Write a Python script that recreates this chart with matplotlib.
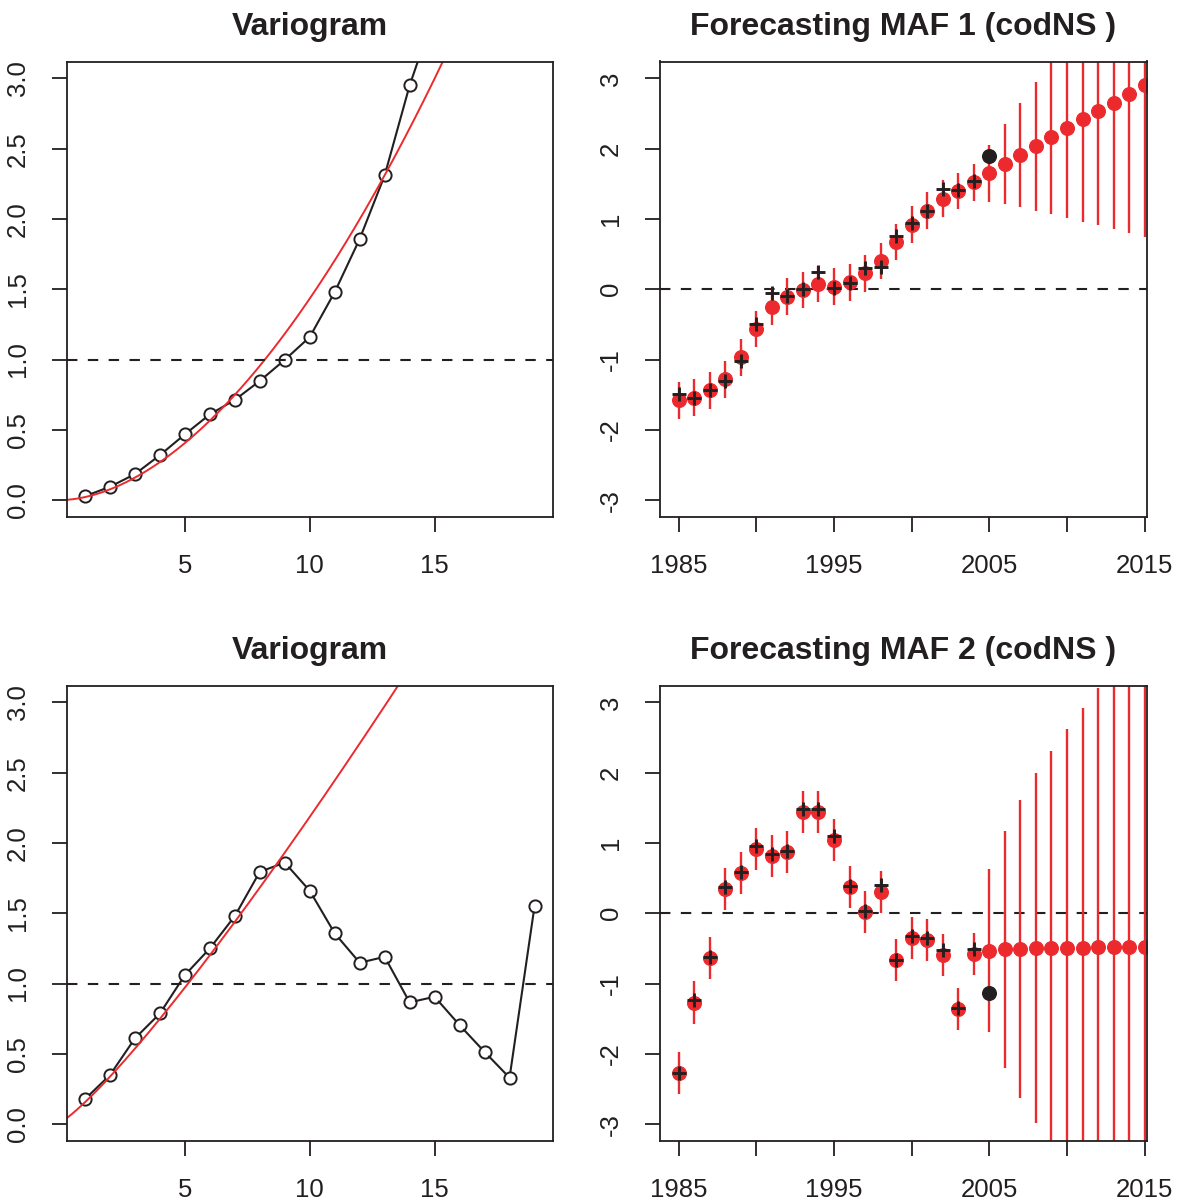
import numpy as np
import matplotlib.pyplot as plt

plt.rcParams['font.family'] = ['Liberation Sans', 'DejaVu Sans']

RED = '#ec2a2e'
INK = '#231f20'

# variogram of MAF 1 (points above 3.1 are off the chart)
lag1 = np.arange(1, 16)
vario1 = [0.028, 0.095, 0.185, 0.32, 0.468, 0.61, 0.713, 0.848, 0.998, 1.16,
          1.48, 1.858, 2.31, 2.95, 3.47]
# fitted power model: nugget + scale * h^power
fit1_nugget, fit1_scale, fit1_power = 0.0, 0.0217, 1.82

# variogram of MAF 2
lag2 = np.arange(1, 20)
vario2 = [0.178, 0.349, 0.61, 0.787, 1.06, 1.25, 1.48, 1.795, 1.86, 1.66,
          1.357, 1.148, 1.19, 0.866, 0.906, 0.704, 0.514, 0.33, 1.55]
fit2_nugget, fit2_scale, fit2_power = 0.012, 0.1436, 1.18

# forecasts
years = np.arange(1985, 2016)
obs_years = np.arange(1985, 2005)
holdout_year = 2005

pred1 = [-1.58, -1.54, -1.44, -1.28, -0.97, -0.568, -0.247, -0.105, -0.01, 0.075,
         0.037, 0.099, 0.227, 0.40, 0.67, 0.918, 1.117, 1.29, 1.40, 1.52,
         1.648, 1.78, 1.91, 2.035, 2.168, 2.295, 2.415, 2.538, 2.656, 2.784, 2.9]
obs1 = [-1.49, -1.54, -1.43, -1.31, -1.02, -0.49, -0.057, -0.09, 0.0, 0.246,
        0.014, 0.095, 0.298, 0.32, 0.76, 0.937, 1.12, 1.42, 1.41, 1.543]
holdout1 = 1.9
half1 = [0.26] * 20 + [0.40, 0.57, 0.745, 0.916, 1.10, 1.28, 1.455, 1.625, 1.80, 1.98, 2.15]

pred2 = [-2.276, -1.27, -0.64, 0.346, 0.569, 0.915, 0.815, 0.876, 1.436, 1.436,
         1.043, 0.378, 0.014, 0.307, -0.664, -0.347, -0.38, -0.593, -1.36, -0.579,
         -0.53, -0.515, -0.505, -0.50, -0.497, -0.493, -0.49, -0.487, -0.483, -0.48, -0.477]
obs2 = [-2.276, -1.233, -0.62, 0.378, 0.592, 0.962, 0.839, 0.89, 1.479, 1.479,
        1.1, 0.388, 0.033, 0.403, -0.664, -0.318, -0.347, -0.522, -1.35, -0.508]
holdout2 = -1.138
half2 = [0.30] * 20 + [1.157, 1.69, 2.12, 2.49, 2.81, 3.12, 3.41, 3.69, 3.95, 4.2, 4.45]

W, H = 1186, 1203
fig = plt.figure(figsize=(W / 100, H / 100), dpi=100)


def box(left, top, right, bottom):
    return fig.add_axes([left / W, 1 - bottom / H, (right - left) / W, (bottom - top) / H])


def style(ax, title):
    ax.set_title(title, fontsize=23, fontweight='bold', pad=19, color=INK)
    ax.tick_params(length=11, width=1.3, pad=15.5, labelsize=18.5, colors=INK)
    for lbl in ax.get_yticklabels():
        lbl.set_rotation(90)
        lbl.set_va('center')
    for s in ax.spines.values():
        s.set_linewidth(1.3)
        s.set_color(INK)


def gapped_line(ax, x, y, gap=6.5):
    # R type="b": segments stop short of the point symbols
    pts = ax.transData.transform(np.column_stack([x, y]))
    inv = ax.transData.inverted()
    for p0, p1 in zip(pts[:-1], pts[1:]):
        d = p1 - p0
        L = np.hypot(*d)
        if L <= 2 * gap:
            continue
        u = d / L
        a, b = inv.transform([p0 + u * gap, p1 - u * gap])
        ax.plot([a[0], b[0]], [a[1], b[1]], color=INK, lw=1.5)


def variogram(ax, lag, vals, nug, scale, power):
    ax.set_xlim(0.28, 19.72)
    ax.set_ylim(-0.12, 3.12)
    gapped_line(ax, lag, vals)
    ax.plot(lag, vals, 'o', ms=8.8, mfc='none', mec=INK, mew=1.4)
    h = np.linspace(0.28, 19.72, 300)
    ax.plot(h, nug + scale * h ** power, color=RED, lw=1.4)
    ax.axhline(1.0, color=INK, lw=1.5, ls=(0, (5, 5)))
    ax.set_xticks([5, 10, 15])
    ax.set_yticks(np.arange(0, 3.01, 0.5))
    ax.set_yticklabels(['%.1f' % v for v in np.arange(0, 3.01, 0.5)])
    style(ax, 'Variogram')


def forecast(ax, pred, obs, holdout, half, title):
    ax.set_xlim(1983.8, 2015.15)
    ax.set_ylim(-3.24, 3.24)
    pred = np.array(pred)
    half = np.array(half)
    ax.axhline(0.0, color=INK, lw=1.5, ls=(0, (5, 5)))
    ax.vlines(years, pred - half, pred + half, color=RED, lw=1.7)
    ax.plot(years, pred, 'o', ms=9.8, color=RED, mec=RED)
    ax.plot(obs_years, obs, '+', ms=10.5, mew=2.1, color=INK)
    ax.plot(holdout_year, holdout, 'o', ms=9.8, color=INK)
    ax.set_xticks(np.arange(1985, 2016, 5))
    ax.set_xticklabels(['1985', '', '1995', '', '2005', '', '2015'])
    ax.set_yticks(np.arange(-3, 4))
    ax.set_yticklabels(['-3', '-2', '-1', '0', '1', '2', '3'])
    style(ax, title)


ax1 = box(67, 61.5, 552.5, 517)
variogram(ax1, lag1, vario1, fit1_nugget, fit1_scale, fit1_power)
ax2 = box(660, 61.5, 1147, 517)
forecast(ax2, pred1, obs1, holdout1, half1, 'Forecasting MAF 1 (codNS )')
ax3 = box(67, 685.5, 552.5, 1141)
variogram(ax3, lag2, vario2, fit2_nugget, fit2_scale, fit2_power)
ax4 = box(660, 685.5, 1147, 1141)
forecast(ax4, pred2, obs2, holdout2, half2, 'Forecasting MAF 2 (codNS )')

fig.savefig('out.png', dpi=100)
